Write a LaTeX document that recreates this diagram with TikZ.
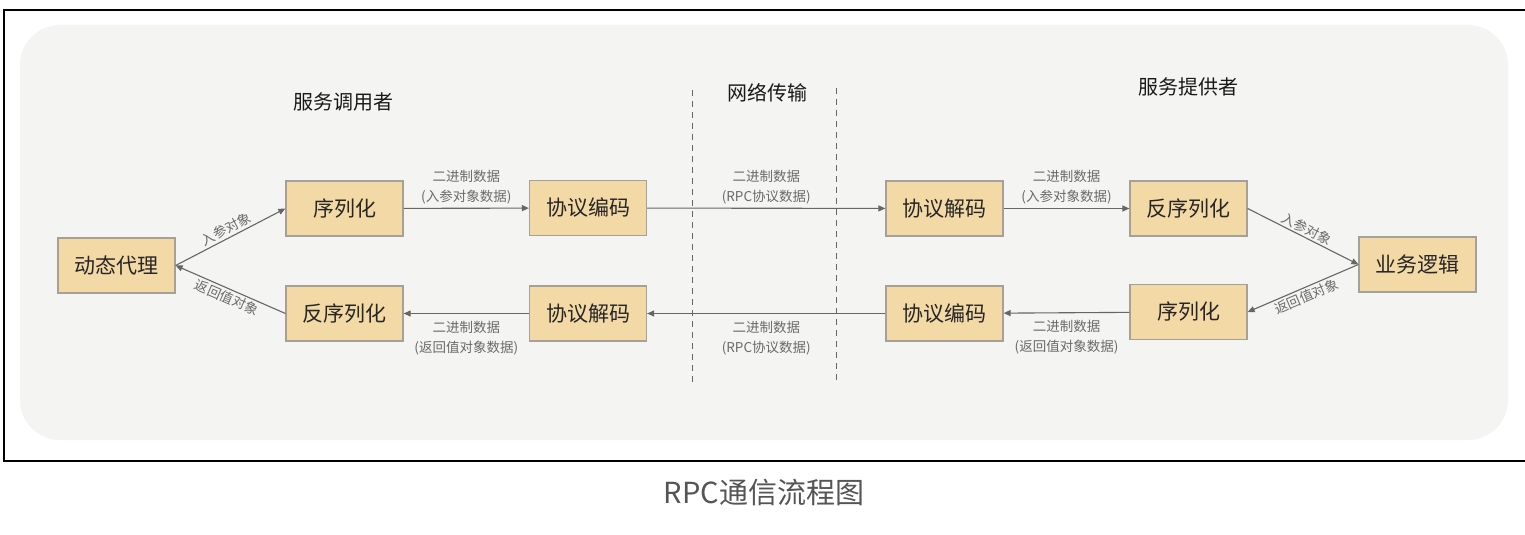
\documentclass[tikz,border=0pt]{standalone}
\usepackage{fontspec}
\setmainfont{Noto Sans CJK SC}
\usetikzlibrary{arrows.meta}
\definecolor{boxfill}{HTML}{F3D9A6}
\definecolor{boxdraw}{HTML}{A4A09A}
\definecolor{bgpanel}{HTML}{F4F4F2}
\definecolor{linegray}{HTML}{666666}
\definecolor{labgray}{HTML}{6A6A6A}
\definecolor{capgray}{HTML}{555555}
\begin{document}
\begin{tikzpicture}[x=1bp,y=-1bp,
  box/.style={draw=boxdraw, line width=1.2bp, fill=boxfill, minimum width=117bp, minimum height=55bp, inner sep=0pt, font=\fontsize{21bp}{24bp}\selectfont, text=black!85},
  conn/.style={draw=linegray, line width=1.1bp, -{Triangle[length=7bp,width=6bp]}},
  lab/.style={font=\fontsize{13.5bp}{20bp}\selectfont, text=labgray, align=center, inner sep=0pt},
  ttl/.style={font=\fontsize{20bp}{24bp}\selectfont, text=black!90, inner sep=0pt},
  sepline/.style={draw=linegray, line width=1bp, dash pattern=on 6bp off 5bp}]
\useasboundingbox (0,0) rectangle (1525,535);
\fill[white] (0,0) rectangle (1525,535);
\draw[line width=1.3bp] (1525,10) -- (4,10) -- (4,461) -- (1525,461);
\fill[bgpanel, rounded corners=40bp] (20,25) rectangle (1508,440);

% titles
\node[ttl] (tcaller) at (343.5,102) {服务调用者};
\node[ttl] (tnet) at (767,93) {网络传输};
\node[ttl] (tprov) at (1188,87) {服务提供者};

% separators
\coordinate (s1a) at (692,90); \coordinate (s1b) at (692,383);
\coordinate (s2a) at (836,88); \coordinate (s2b) at (836,381);
\draw[sepline] (s1a) -- (s1b);
\draw[sepline] (s2a) -- (s2b);

% boxes
\node[box] (dtdl) at (116.5,265.5) {动态代理};
\node[box] (xlh1) at (344.5,208.5) {序列化};
\node[box] (xybm1) at (588,208) {协议编码};
\node[box] (fxlh1) at (344.5,313.5) {反序列化};
\node[box] (xyjm1) at (588,313.5) {协议解码};
\node[box] (xyjm2) at (944.5,208.5) {协议解码};
\node[box] (xybm2) at (944.5,313.5) {协议编码};
\node[box] (fxlh2) at (1188.5,208.5) {反序列化};
\node[box] (xlh2) at (1188.5,312) {序列化};
\node[box] (ywlj) at (1417.5,264.5) {业务逻辑};

% caller side
\draw[conn] (dtdl.east) -- node[lab, midway, sloped, above=2bp] (l1) {入参对象} (xlh1.west);
\draw[conn] (fxlh1.west) -- node[lab, midway, sloped, below=2bp] (l2) {返回值对象} (dtdl.east);
\draw[conn] (xlh1) -- node[lab, midway, above=4bp] (l3) {二进制数据\\(入参对象数据)} (xybm1);
\draw[conn] (xyjm1) -- node[lab, midway, below=7bp] (l4) {二进制数据\\(返回值对象数据)} (fxlh1);

% network
\draw[conn] (xybm1) -- node[lab, midway, above=4bp] (l5) {二进制数据\\(RPC协议数据)} (xyjm2);
\draw[conn] (xybm2) -- node[lab, midway, below=7bp] (l6) {二进制数据\\(RPC协议数据)} (xyjm1);

% provider side
\draw[conn] (xyjm2) -- node[lab, midway, above=4bp] (l7) {二进制数据\\(入参对象数据)} (fxlh2);
\draw[conn] (xlh2) -- node[lab, midway, below=7bp] (l8) {二进制数据\\(返回值对象数据)} (xybm2);
\draw[conn] (fxlh2.east) -- node[lab, midway, sloped, above=2bp] (l9) {入参对象} (ywlj.west);
\draw[conn] (ywlj.west) -- node[lab, midway, sloped, below=2bp] (l10) {返回值对象} (xlh2.east);

% caption
\node[font=\fontsize{29bp}{33bp}\selectfont, text=capgray, inner sep=0pt] (cap) at (764,493) {RPC通信流程图};
\end{tikzpicture}
\end{document}
